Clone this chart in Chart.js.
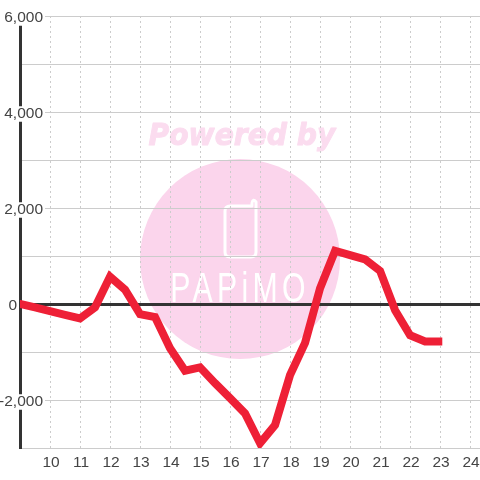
<!DOCTYPE html>
<html><head><meta charset="utf-8">
<style>html,body{margin:0;padding:0;background:#fff}canvas{display:block}</style>
<script src="https://cdn.jsdelivr.net/npm/chart.js@4"></script>
</head><body><canvas id="c" width="480" height="480"></canvas>
<script>
const hours = [9,9.5,10,10.5,11,11.5,12,12.5,13,13.5,14,14.5,15,15.5,16,16.5,17,17.5,18,18.5,19,19.5,20,20.5,21,21.5,22,22.5,22.94];
const balance = [0,-70,-150,-225,-300,-70,570,300,-210,-270,-920,-1390,-1320,-1650,-1960,-2280,-2900,-2520,-1480,-810,330,1110,1020,930,690,-130,-650,-780,-780];
const yMin=-3000,yMax=6000,xMin=9,xMax=24.33;

const watermark = {
  id:'watermark',
  beforeDraw(chart){
    const c=chart.ctx; c.save();
    c.fillStyle='#fff'; c.fillRect(0,0,480,480);
    c.fillStyle='#fbd5ec';
    c.beginPath(); c.arc(240,259,100,0,Math.PI*2); c.fill();

    c.textAlign='center'; c.textBaseline='alphabetic'; c.lineJoin='round';
    c.save();
    c.translate(242,145); c.scale(0.91,1);
    c.font='italic bold 31px "DejaVu Sans"';
    c.fillStyle='#fbdcef'; c.strokeStyle='#fbdcef'; c.lineWidth=1;
    c.strokeText('Powered by',0,0);
    c.fillText('Powered by',0,0);
    c.restore();

    c.strokeStyle='#fff'; c.lineWidth=3;
    c.beginPath();
    c.moveTo(225,211); c.lineTo(225,252); c.quadraticCurveTo(225,257,230,257);
    c.lineTo(251,257); c.quadraticCurveTo(256,257,256,252); c.lineTo(256,202);
    c.quadraticCurveTo(253,198,252,203); c.lineTo(252,206); c.lineTo(230,206);
    c.quadraticCurveTo(225,206,225,211); c.stroke();

    c.save();
    c.translate(240,302); c.scale(0.72,1);
    c.font='42px "Liberation Sans"';
    c.letterSpacing='6px';
    c.fillStyle='#fff';
    c.fillText('PAPiMO',0,0);
    c.restore();
    c.restore();
  }
};

new Chart(document.getElementById('c'),{
  type:'line',
  data:{datasets:[
    {label:'balance',data:hours.map((h,i)=>({x:h,y:balance[i]})),borderColor:'#ee2036',borderWidth:8,borderCapStyle:'square',pointRadius:0,tension:0,fill:false}
  ]},
  options:{
    responsive:false,animation:false,
    layout:{padding:{top:16,left:0,right:0,bottom:0}},
    plugins:{legend:{display:false},tooltip:{enabled:false}},
    scales:{
      x:{type:'linear',min:xMin,max:xMax,
        afterFit(s){s.height=32;s.paddingRight=0;s.paddingLeft=0;},
        grid:{color:'#cccccc',lineWidth:1,drawTicks:false},
        border:{display:false,dash:[2,3]},
        ticks:{stepSize:1,includeBounds:false,maxRotation:0,padding:5,color:'#444444',labelOffset:1,
          font:{family:'"Liberation Sans"',size:15.5},
          callback:v=>(v===9?'':String(v))}
      },
      y:{type:'linear',min:yMin,max:yMax,
        afterFit(s){s.width=20;s.paddingTop=0;s.paddingBottom=0;s._computeLabelArea=()=>undefined;},
        grid:{color:ctx=>(ctx.tick&&ctx.tick.value===0?'#333333':'#cccccc'),lineWidth:ctx=>(ctx.tick&&ctx.tick.value===0?3:1),drawTicks:false},
        border:{display:true,color:'#333333',width:3},
        ticks:{stepSize:1000,padding:-23,color:'#444444',labelOffset:2,
          font:{family:'"Liberation Sans"',size:15.5,lineHeight:1},
          showLabelBackdrop:true,
          backdropColor:ctx=>(ctx.tick&&ctx.tick.value%2000===0&&ctx.tick.value!==0?'#ffffff':'rgba(0,0,0,0)'),
          backdropPadding:{top:0,bottom:0,left:2,right:2},
          callback:v=>{ if(v%2000!==0) return ''; return v===0?'0      ':v.toLocaleString('en-US'); }
        }
      }
    }
  },
  plugins:[watermark]
});
</script></body></html>
